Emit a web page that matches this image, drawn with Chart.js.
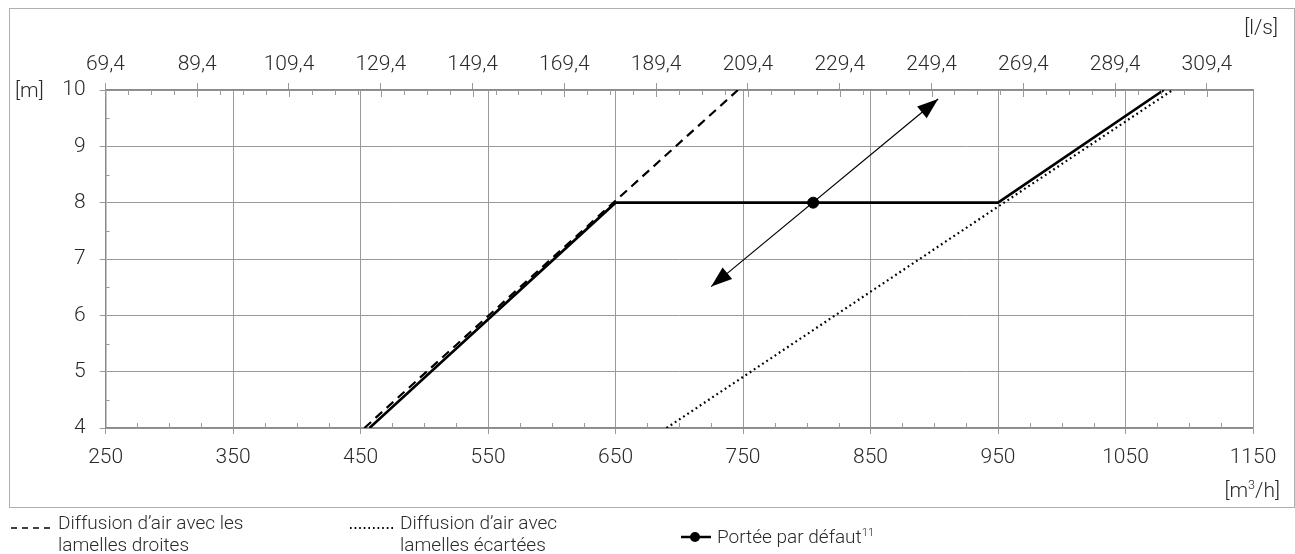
<!DOCTYPE html>
<html>
<head>
<meta charset="utf-8">
<script src="https://cdn.jsdelivr.net/npm/chart.js@4.4.1/dist/chart.umd.min.js"></script>
<style>
  html, body { margin: 0; padding: 0; background: #fff; }
  body { width: 1295px; height: 554px; position: relative; overflow: hidden; font-family: Roboto, "Noto Sans", sans-serif; font-weight: 300; color: #2a2a2a; }
  #frame { position: absolute; left: 9px; top: 8px; width: 1284px; height: 498px; border: 1.5px solid #b0b0b0; box-sizing: content-box; }
  #wrap { position: absolute; left: 0; top: 0; width: 1295px; height: 554px; }
  .lbl { position: absolute; font-size: 21px; line-height: 24px; white-space: nowrap; }
  .leg { position: absolute; font-size: 19px; line-height: 22px; white-space: nowrap; }
  .sw { position: absolute; }
  sup { font-size: 60%; line-height: 0; vertical-align: 0.6em; }
</style>
</head>
<body>
<div id="frame"></div>
<div id="wrap"><canvas id="c" width="1295" height="554"></canvas></div>
<div class="lbl" style="left:15px; top:78px;">[m]</div>
<div class="lbl" style="right:17px; top:15px;">[l/s]</div>
<div class="lbl" style="right:15px; top:478px;">[m<sup>3</sup>/h]</div>

<svg class="sw" style="left:10px; top:522px;" width="44" height="10"><line x1="1" y1="6" x2="44" y2="6" stroke="#000" stroke-width="1.6" stroke-dasharray="6,5"/></svg>
<div class="leg" style="left:58px; top:512px;">Diffusion d’air avec les<br>lamelles droites</div>

<svg class="sw" style="left:349px; top:522px;" width="46" height="10"><line x1="1" y1="6" x2="46" y2="6" stroke="#000" stroke-width="1.8" stroke-dasharray="1.6,3"/></svg>
<div class="leg" style="left:400px; top:512px;">Diffusion d’air avec<br>lamelles écartées</div>

<svg class="sw" style="left:680px; top:530px;" width="32" height="14"><line x1="1" y1="7" x2="31" y2="7" stroke="#000" stroke-width="2.5"/><circle cx="15" cy="7" r="5" fill="#000"/></svg>
<div class="leg" style="left:717px; top:526px;">Portée par défaut<sup>11</sup></div>

<script>
// ---- data ----
const xTicks = [250, 350, 450, 550, 650, 750, 850, 950, 1050, 1150];          // m³/h
const topTicks = [69.4, 89.4, 109.4, 129.4, 149.4, 169.4, 189.4, 209.4, 229.4, 249.4, 269.4, 289.4, 309.4]; // l/s
const yTicks = [4, 5, 6, 7, 8, 9, 10];                                         // m

const defaultX = [457, 650, 950, 1080];
const defaultY = [4, 8, 8, 10];
const straightX = [453, 746];
const straightY = [4, 10];
const spreadX = [690, 1087];
const spreadY = [4, 10];
const pointX = [805];
const pointY = [8];
const arrowX = [725, 903];
const arrowY = [6.51, 9.84];

const toPts = (xs, ys) => xs.map((x, i) => ({ x: x, y: ys[i] }));

const GRID = '#9a9a9a';
const AXIS = '#8a8a8a';
const TXT = '#2a2a2a';

Chart.defaults.font.family = 'Roboto, "Noto Sans", sans-serif';
Chart.defaults.font.weight = 300;

const minorPlugin = {
  id: 'minor',
  afterDraw(chart) {
    const ctx = chart.ctx, a = chart.chartArea;
    const sx = chart.scales.x, sx2 = chart.scales.x2, sy = chart.scales.y;
    ctx.save();
    ctx.strokeStyle = GRID;
    ctx.lineWidth = 1;
    ctx.beginPath();
    for (let v = xTicks[0]; v <= xTicks[xTicks.length - 1]; v += 25) {
      if (xTicks.includes(v)) continue;
      const px = Math.round(sx.getPixelForValue(v)) + 0.5;
      ctx.moveTo(px, a.bottom); ctx.lineTo(px, a.bottom - 5);
    }
    for (let k = 0; k <= 48; k++) {
      const v = topTicks[0] + 5 * k;
      if (v > sx2.max + 0.01) break;
      const px = Math.round(sx2.getPixelForValue(v)) + 0.5;
      const len = (k % 4 === 0) ? 7 : 5;
      ctx.moveTo(px, a.top); ctx.lineTo(px, a.top + len);
    }
    for (let v = yTicks[0] + 0.5; v < yTicks[yTicks.length - 1]; v += 1) {
      const py = Math.round(sy.getPixelForValue(v)) + 0.5;
      ctx.moveTo(a.left, py); ctx.lineTo(a.left + 4, py);
    }
    ctx.stroke();
    ctx.restore();
  }
};

const arrowPlugin = {
  id: 'arrows',
  afterDatasetsDraw(chart) {
    const idx = chart.data.datasets.findIndex(d => d.label === 'arrow');
    const meta = chart.getDatasetMeta(idx);
    if (!meta || meta.data.length < 2) return;
    const p0 = meta.data[0], p1 = meta.data[1];
    const ctx = chart.ctx;
    const head = (tip, from) => {
      const ang = Math.atan2(tip.y - from.y, tip.x - from.x);
      const L = 21, W = 7.5;
      const bx = tip.x - L * Math.cos(ang), by = tip.y - L * Math.sin(ang);
      ctx.beginPath();
      ctx.moveTo(tip.x, tip.y);
      ctx.lineTo(bx + W * Math.sin(ang), by - W * Math.cos(ang));
      ctx.lineTo(bx - W * Math.sin(ang), by + W * Math.cos(ang));
      ctx.closePath();
      ctx.fill();
    };
    ctx.save();
    ctx.fillStyle = '#000';
    head(p1, p0);
    head(p0, p1);
    ctx.restore();
  }
};

new Chart(document.getElementById('c'), {
  type: 'scatter',
  data: {
    datasets: [
      { label: 'Diffusion d’air avec les lamelles droites', data: toPts(straightX, straightY), showLine: true,
        borderColor: '#000', borderWidth: 2.2, borderDash: [9, 6], pointRadius: 0, fill: false },
      { label: 'Diffusion d’air avec lamelles écartées', data: toPts(spreadX, spreadY), showLine: true,
        borderColor: '#000', borderWidth: 2.2, borderDash: [1.8, 3.2], pointRadius: 0, fill: false },
      { label: 'Portée par défaut', data: toPts(defaultX, defaultY), showLine: true,
        borderColor: '#000', borderWidth: 2.6, pointRadius: 0, fill: false },
      { label: 'arrow', data: toPts(arrowX, arrowY), showLine: true,
        borderColor: '#000', borderWidth: 1.2, pointRadius: 0, fill: false },
      { label: 'point', data: toPts(pointX, pointY), showLine: false,
        backgroundColor: '#000', borderColor: '#000', pointRadius: 5.5 }
    ]
  },
  options: {
    responsive: false,
    animation: false,
    events: [],
    layout: { padding: { left: 0, right: 42, top: 0, bottom: 66 } },
    plugins: { legend: { display: false }, tooltip: { enabled: false } },
    scales: {
      x: {
        type: 'linear', position: 'bottom', min: 250, max: 1150,
        afterBuildTicks: s => { s.ticks = xTicks.map(v => ({ value: v })); },
        afterFit: s => { s.height = 60; },
        grid: { color: GRID, lineWidth: 1, tickLength: 6, tickColor: GRID },
        border: { display: true, color: AXIS, width: 1.5 },
        ticks: { color: TXT, font: { size: 21 }, padding: 11, maxRotation: 0, autoSkip: false, callback: v => String(v) }
      },
      x2: {
        type: 'linear', position: 'top', min: 250 / 3.6, max: 1150 / 3.6,
        afterBuildTicks: s => { s.ticks = topTicks.map(v => ({ value: v })); },
        afterFit: s => { s.height = 90; },
        grid: { drawOnChartArea: false, color: GRID, lineWidth: 1, tickLength: 7, tickColor: GRID },
        border: { display: true, color: AXIS, width: 1.5 },
        ticks: { color: TXT, font: { size: 21 }, padding: 6, maxRotation: 0, autoSkip: false,
                 callback: v => v.toFixed(1).replace('.', ',') }
      },
      y: {
        type: 'linear', position: 'left', min: 4, max: 10,
        afterBuildTicks: s => { s.ticks = yTicks.map(v => ({ value: v })); },
        afterFit: s => { s.width = 105.6; },
        grid: { color: GRID, lineWidth: 1, tickLength: 6, tickColor: GRID },
        border: { display: true, color: AXIS, width: 1.5 },
        ticks: { color: TXT, font: { size: 21 }, padding: 14, callback: v => String(v) }
      }
    }
  },
  plugins: [minorPlugin, arrowPlugin]
});
</script>
</body>
</html>
